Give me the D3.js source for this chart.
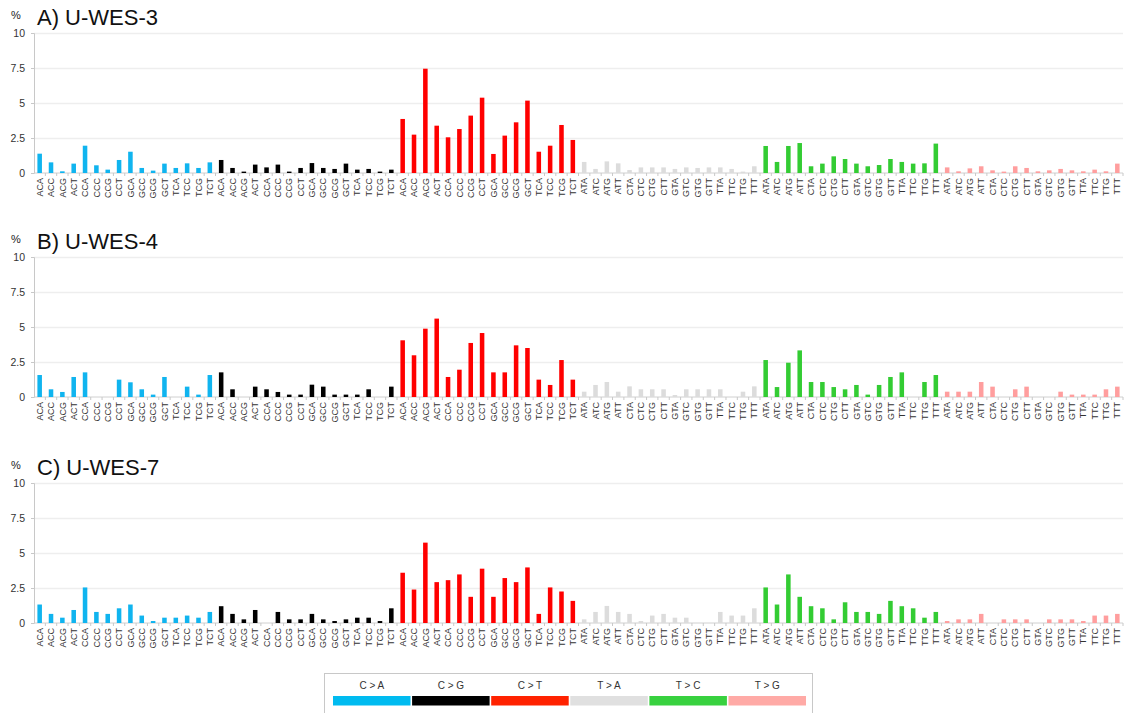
<!DOCTYPE html>
<html>
<head>
<meta charset="utf-8">
<script src="https://cdn.jsdelivr.net/npm/d3@7"></script>
<style>
  html, body { margin: 0; padding: 0; background: #fff; }
  svg { display: block; font-family: "Liberation Sans", Arial, sans-serif; }
</style>
</head>
<body>
<svg id="chart" width="1125" height="713"></svg>
<script>
// Mutation classes and their trinucleotide contexts
const mutationTypes = ["C > A", "C > G", "C > T", "T > A", "T > C", "T > G"];
const typeColors = ["#10B4EF", "#000000", "#FF0000", "#DCDCDC", "#33CC33", "#FF9E9E"];
const legendColors = ["#00BBF0", "#000000", "#FF2200", "#E0E0E0", "#38D13F", "#FFAAA6"];
const contextsC = ["ACA","ACC","ACG","ACT","CCA","CCC","CCG","CCT","GCA","GCC","GCG","GCT","TCA","TCC","TCG","TCT"];
const contextsT = ["ATA","ATC","ATG","ATT","CTA","CTC","CTG","CTT","GTA","GTC","GTG","GTT","TTA","TTC","TTG","TTT"];
const yTicks = [0, 2.5, 5, 7.5, 10];
const sampleTitles = ["A) U-WES-3", "B) U-WES-4", "C) U-WES-7"];

// Percent of mutations per context, 96 values per sample (C>A, C>G, C>T, T>A, T>C, T>G)
const wes3 = [
  1.38,0.76,0.12,0.67,1.95,0.55,0.24,0.93,1.52,0.36,0.17,0.67,0.36,0.69,0.36,0.76,
  0.93,0.36,0.10,0.60,0.40,0.60,0.10,0.36,0.71,0.36,0.29,0.67,0.24,0.29,0.10,0.24,
  3.86,2.74,7.45,3.38,2.55,3.14,4.10,5.38,1.36,2.67,3.62,5.17,1.52,1.95,3.43,2.36,
  0.79,0.29,0.83,0.69,0.21,0.40,0.40,0.40,0.29,0.40,0.36,0.40,0.40,0.29,0.10,0.48,
  1.93,0.79,1.93,2.14,0.48,0.67,1.19,1.00,0.67,0.48,0.57,1.00,0.79,0.67,0.69,2.10,
  0.40,0.12,0.33,0.48,0.19,0.10,0.48,0.36,0.12,0.19,0.29,0.19,0.12,0.24,0.12,0.67
];
const wes4 = [
  1.57,0.55,0.36,1.43,1.76,0,0,1.24,1.05,0.55,0.17,1.43,0,0.74,0.17,1.57,
  1.76,0.55,0,0.74,0.55,0.36,0.17,0.17,0.88,0.74,0.17,0.17,0.17,0.55,0,0.74,
  4.05,2.98,4.88,5.60,1.43,1.95,3.86,4.57,1.76,1.76,3.69,3.50,1.24,0.86,2.64,1.24,
  0.38,0.86,1.07,0.38,0.76,0.55,0.55,0.55,0.14,0.55,0.55,0.55,0.55,0,0.38,0.76,
  2.64,0.71,2.45,3.33,1.07,1.07,0.71,0.55,0.86,0.17,0.86,1.43,1.76,0,1.07,1.57,
  0.38,0.38,0.38,1.07,0.74,0,0.55,0.74,0,0,0.38,0.17,0.17,0.17,0.55,0.74
];
const wes7 = [
  1.32,0.65,0.38,0.93,2.54,0.79,0.65,1.05,1.32,0.53,0.14,0.38,0.38,0.53,0.38,0.79,
  1.20,0.65,0.26,0.93,0,0.79,0.26,0.26,0.65,0.26,0.14,0.26,0.38,0.38,0.14,1.05,
  3.59,2.39,5.74,2.92,3.06,3.47,1.87,3.88,1.87,3.21,2.92,3.97,0.65,2.54,2.25,1.58,
  0.26,0.79,1.22,0.79,0.65,0.14,0.53,0.65,0.38,0.38,0,0,0.79,0.53,0.53,1.05,
  2.54,1.32,3.47,1.87,1.20,1.05,0.26,1.48,0.79,0.79,0.65,1.58,1.20,1.05,0.38,0.79,
  0.14,0.26,0.26,0.65,0,0.26,0.26,0.26,0,0.26,0.26,0.26,0.14,0.53,0.53,0.65
];
const samples = [wes3, wes4, wes7];

// Build the 96 categories
const categories = [];
mutationTypes.forEach((t, ti) => {
  const ctx = ti < 3 ? contextsC : contextsT;
  ctx.forEach(c => categories.push({ key: t + ":" + c, context: c, typeIndex: ti }));
});

const svg = d3.select("#chart");
const left = 34, right = 1123, plotH = 140;
const panelTops = [33, 257, 483];

const x = d3.scaleBand()
  .domain(categories.map(d => d.key))
  .range([left, right])
  .paddingInner(0.6)
  .paddingOuter(0.3);

samples.forEach((values, si) => {
  const top = panelTops[si];
  const y = d3.scaleLinear().domain([0, 10]).range([top + plotH, top]);
  const g = svg.append("g");

  // horizontal gridlines
  g.append("g")
    .attr("transform", `translate(${left},0)`)
    .call(d3.axisLeft(y).tickValues(yTicks.slice(1)).tickSize(-(right - left)).tickFormat(""))
    .call(s => s.select(".domain").remove())
    .call(s => s.selectAll("line").attr("stroke", "#EEEEEE").attr("stroke-width", 1.5));

  // y axis
  g.append("g")
    .attr("transform", `translate(${left},0)`)
    .call(d3.axisLeft(y).tickValues(yTicks).tickSize(3).tickPadding(6).tickFormat(d => d))
    .call(s => s.select(".domain").attr("stroke", "#C8C8C8"))
    .call(s => s.selectAll("line").attr("stroke", "#C8C8C8"))
    .call(s => s.selectAll("text").attr("fill", "#333").style("font-size", "10.5px")
      .style("font-family", "'Liberation Sans', Arial, sans-serif"));

  // x axis baseline and boundary ticks
  const step = x.step();
  g.append("line")
    .attr("x1", left).attr("x2", right)
    .attr("y1", y(0)).attr("y2", y(0))
    .attr("stroke", "#D0D0D0").attr("stroke-width", 1);
  g.append("g").selectAll("line")
    .data(categories)
    .join("line")
    .attr("x1", d => x(d.key) + x.bandwidth() / 2 + step / 2)
    .attr("x2", d => x(d.key) + x.bandwidth() / 2 + step / 2)
    .attr("y1", y(0)).attr("y2", y(0) + 3)
    .attr("stroke", "#C8C8C8");

  // bars
  g.append("g").selectAll("rect")
    .data(categories.map((c, i) => ({ ...c, value: values[i] })))
    .join("rect")
    .attr("x", d => x(d.key))
    .attr("width", x.bandwidth())
    .attr("y", d => y(d.value))
    .attr("height", d => y(0) - y(d.value))
    .attr("fill", d => typeColors[d.typeIndex]);

  // context labels
  g.append("g").selectAll("text")
    .data(categories)
    .join("text")
    .attr("transform", d => `translate(${x(d.key) + x.bandwidth() / 2},${y(0) + 5}) rotate(-90)`)
    .attr("text-anchor", "end")
    .attr("dy", "0.35em")
    .attr("fill", "#333")
    .style("font-size", "9px")
    .text(d => d.context);

  // unit and title
  g.append("text")
    .attr("x", 16).attr("y", top - 14)
    .attr("text-anchor", "middle")
    .attr("fill", "#222")
    .style("font-size", "11px")
    .text("%");
  g.append("text")
    .attr("x", 37).attr("y", top - 8)
    .attr("fill", "#111")
    .style("font-size", "22px")
    .text(sampleTitles[si]);
});

// legend
const legend = svg.append("g");
legend.append("rect")
  .attr("x", 324.5).attr("y", 673.5)
  .attr("width", 488).attr("height", 45)
  .attr("fill", "#fff").attr("stroke", "#C8C8C8");
const lx = d3.scaleBand().domain(mutationTypes).range([333, 806]).paddingInner(0.02);
legend.selectAll("rect.sw")
  .data(mutationTypes)
  .join("rect")
  .attr("class", "sw")
  .attr("x", d => lx(d))
  .attr("width", lx.bandwidth())
  .attr("y", 696).attr("height", 9.5)
  .attr("fill", (d, i) => legendColors[i]);
legend.selectAll("text")
  .data(mutationTypes)
  .join("text")
  .attr("x", d => lx(d) + lx.bandwidth() / 2)
  .attr("y", 689)
  .attr("text-anchor", "middle")
  .attr("fill", "#333")
  .style("font-size", "10px")
  .text(d => d);
</script>
</body>
</html>
